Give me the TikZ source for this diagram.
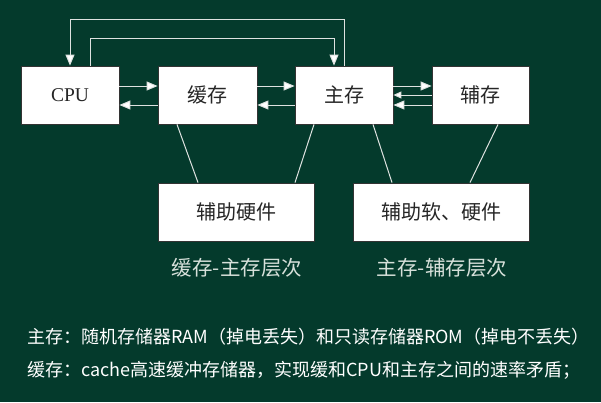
\documentclass[tikz,border=0pt]{standalone}
\usepackage{fontspec}
\setmainfont{Liberation Serif}
\newfontfamily\cjk{Noto Sans CJK SC}
\usetikzlibrary{arrows.meta}
\definecolor{bg}{RGB}{4,58,44}
\definecolor{ln}{RGB}{222,226,224}
\definecolor{lbl}{RGB}{215,224,218}
\begin{document}
\begin{tikzpicture}[x=1pt,y=-1pt,
  box/.style={draw=black!80,line width=0.8pt,fill=white,inner sep=0pt,text=black!85},
  conn/.style={draw=ln,line width=1pt},
  arr/.style={conn,-{Triangle[length=11pt,width=9pt,fill=white]}},
  sarr/.style={conn,-{Triangle[length=8pt,width=7pt,fill=white]}}]
\fill[bg] (0,0) rectangle (601,402);
\useasboundingbox (0,0) rectangle (601,402);
% boxes
\node[box,minimum width=98pt,minimum height=58pt,font=\fontsize{19.5}{22}\selectfont] (cpu) at (70,95) {CPU};
\node[box,minimum width=99pt,minimum height=58pt,font=\cjk\fontsize{20}{22}\selectfont] (cache) at (207.5,95) {缓存};
\node[box,minimum width=98pt,minimum height=58pt,font=\cjk\fontsize{20}{22}\selectfont] (main) at (344,95) {主存};
\node[box,minimum width=97pt,minimum height=58pt,font=\cjk\fontsize{20}{22}\selectfont] (aux) at (480.5,95) {辅存};
\node[box,minimum width=156pt,minimum height=58pt,font=\cjk\fontsize{20}{22}\selectfont] (hw) at (236,212) {辅助硬件};
\node[box,minimum width=176pt,minimum height=58pt,font=\cjk\fontsize{20}{22}\selectfont] (swhw) at (441,212) {辅助软、硬件};
% level labels
\node[font=\cjk\fontsize{20.5}{22}\selectfont,text=lbl] (l1) at (237,268) {缓存-主存层次};
\node[font=\cjk\fontsize{20.5}{22}\selectfont,text=lbl] (l2) at (442,268) {主存-辅存层次};
% horizontal arrows
\draw[arr] (cpu.east |- 0,86) -- (cache.west |- 0,86);
\draw[arr] (cache.west |- 0,105) -- (cpu.east |- 0,105);
\draw[arr] (cache.east |- 0,86) -- (main.west |- 0,86);
\draw[arr] (main.west |- 0,105) -- (cache.east |- 0,105);
\draw[arr] (main.east |- 0,86) -- (aux.west |- 0,86);
\draw[sarr] (aux.west |- 0,95) -- (main.east |- 0,95);
\draw[arr] (aux.west |- 0,105) -- (main.east |- 0,105);
% feedback loops
\coordinate (o1) at (344,19);
\coordinate (o2) at (70,19);
\draw[arr] (main.north -| o1) -- (o1) -- (o2) -- (cpu.north -| o2);
\coordinate (i1) at (90,38);
\coordinate (i2) at (334,38);
\draw[arr] (cpu.north -| i1) -- (i1) -- (i2) -- (main.north -| i2);
% support lines
\draw[conn] (cache.south -| 177,0) -- (hw.north -| 198,0);
\draw[conn] (main.south -| 314,0) -- (hw.north -| 295,0);
\draw[conn] (main.south -| 373,0) -- (swhw.north -| 392,0);
\draw[conn] (aux.south -| 498,0) -- (swhw.north -| 470,0);
% notes
\node[anchor=west,font=\cjk\fontsize{18}{20}\selectfont,text=white,inner sep=0pt] (n1) at (27,337) {主存：随机存储器RAM（掉电丢失）和只读存储器ROM（掉电不丢失）};
\node[anchor=west,font=\cjk\fontsize{18}{20}\selectfont,text=white,inner sep=0pt] (n2) at (27,370) {缓存：cache高速缓冲存储器，实现缓和CPU和主存之间的速率矛盾；};
\end{tikzpicture}
\end{document}
